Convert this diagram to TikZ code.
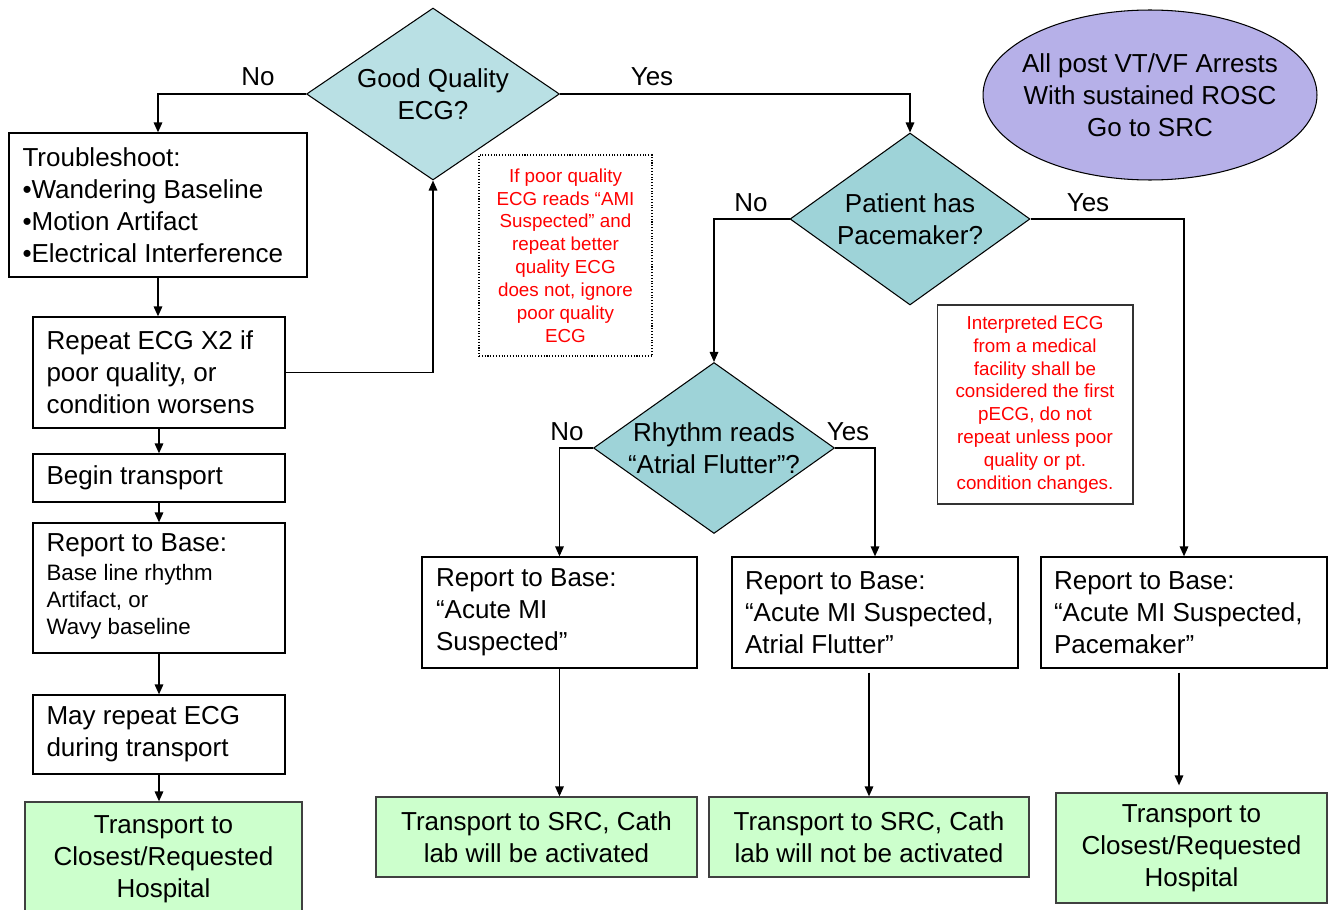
\documentclass[tikz,border=0pt]{standalone}
\usepackage{fontspec}
\setmainfont{Liberation Sans}
\usetikzlibrary{shapes.geometric,arrows.meta}
\definecolor{diaA}{HTML}{B9E0E4}
\definecolor{diaB}{HTML}{9ED3D8}
\definecolor{lav}{HTML}{B6B0E8}
\definecolor{grn}{HTML}{CCFFCC}
\definecolor{notered}{HTML}{FF0000}
\tikzset{
  main/.style={font=\fontsize{14.8}{18.14}\selectfont},
  box/.style={main, draw=black, line width=0.7pt, fill=white, inner xsep=0.27cm, inner ysep=0pt, align=flush left},
  gbox/.style={main, draw=black!75, line width=0.7pt, fill=grn, align=center, inner sep=0pt},
  dia/.style={diamond, draw=black, line width=0.6pt, inner sep=0pt},
  notetxt/.style={font=\fontsize{10.7}{13}\selectfont, text=notered, align=center, inner sep=0pt},
  arr/.style={line width=0.9pt, -{Triangle[length=0.2cm,width=0.17cm]}},
  lbl/.style={main, inner sep=0pt},
}
\begin{document}
\begin{tikzpicture}[x=0.02cm,y=-0.02cm]
\useasboundingbox (0,0) rectangle (1328,909);
\clip (0,0) rectangle (1328,909);

% decisions
\node[dia, fill=diaA, minimum width=5.06cm, minimum height=3.44cm,
  label={[main,align=center]center:Good Quality\\ECG?}] (d1) at (433,94) {};
\node[dia, fill=diaB, minimum width=4.80cm, minimum height=3.44cm,
  label={[main,align=center]center:Patient has\\Pacemaker?}] (d2) at (910,219) {};
\node[dia, fill=diaB, minimum width=4.82cm, minimum height=3.42cm,
  label={[main,align=center]center:Rhythm reads\\“Atrial Flutter”?}] (d3) at (714,448) {};

% ellipse
\node[ellipse, draw=black, line width=0.6pt, fill=lav, inner sep=0pt,
  minimum width=6.68cm, minimum height=3.40cm,
  label={[main,align=center]center:All post VT/VF Arrests\\With sustained ROSC\\Go to SRC}] (ell) at (1150,95) {};

% left column
\node[box, text width=5.42cm, minimum height=2.88cm] (ts) at (158,205)
  {Troubleshoot:\\•Wandering Baseline\\•Motion Artifact\\•Electrical Interference};
\node[box, text width=4.50cm, minimum height=2.22cm] (rep) at (159,372.5)
  {Repeat ECG X2 if\\poor quality, or\\condition worsens};
\node[box, text width=4.50cm, minimum height=0.96cm] (beg) at (159,478)
  {Begin transport};
\node[box, text width=4.50cm, minimum height=2.60cm] (rpl) at (159,588)
  {Report to Base:\\[-1.5pt]{\fontsize{12.7}{15.3}\selectfont\begin{tabular}[t]{@{}l@{}}Base line rhythm\\Artifact, or\\Wavy baseline\end{tabular}}};
\node[box, text width=4.50cm, minimum height=1.58cm] (may) at (159,734.5)
  {May repeat ECG\\during transport};
\node[gbox, minimum width=5.54cm, minimum height=2.30cm] (grl) at (163.5,859.5)
  {Transport to\\Closest/Requested\\Hospital};

% notes
\node[draw=black, densely dotted, line width=0.6pt, minimum width=3.46cm, minimum height=4.02cm,
  notetxt] (n1) at (565.5,255.5)
  {If poor quality\\ECG reads “AMI\\Suspected” and\\repeat better\\quality ECG\\does not, ignore\\poor quality\\ECG};
\node[draw=black!80, line width=0.6pt, minimum width=3.92cm, minimum height=3.98cm,
  notetxt] (n2) at (1035,404.5)
  {Interpreted ECG\\from a medical\\facility shall be\\considered the first\\pECG, do not\\repeat unless poor\\quality or pt.\\condition changes.};

% right reports
\node[box, inner xsep=0.28cm, text width=4.94cm, minimum height=2.22cm] (rpa) at (559.5,612.5)
  {Report to Base:\\“Acute MI\\Suspected”};
\node[box, inner xsep=0.26cm, text width=5.20cm, minimum height=2.22cm] (rpb) at (875,612.5)
  {Report to Base:\\“Acute MI Suspected,\\Atrial Flutter”};
\node[box, inner xsep=0.26cm, text width=5.20cm, minimum height=2.22cm] (rpc) at (1184,612.5)
  {Report to Base:\\“Acute MI Suspected,\\Pacemaker”};

% right finals
\node[gbox, minimum width=6.42cm, minimum height=1.60cm] (gra) at (536.5,837)
  {Transport to SRC, Cath\\lab will be activated};
\node[gbox, minimum width=6.40cm, minimum height=1.60cm] (grb) at (869,837)
  {Transport to SRC, Cath\\lab will not be activated};
\node[gbox, minimum width=5.42cm, minimum height=2.20cm] (grc) at (1191.5,848)
  {Transport to\\Closest/Requested\\Hospital};

% labels
\node[lbl] (no1) at (258,77) {No};
\node[lbl] (yes1) at (652,77) {Yes};
\node[lbl] (no2) at (751,203) {No};
\node[lbl] (yes2) at (1088,203) {Yes};
\node[lbl] (no3) at (567,432) {No};
\node[lbl] (yes3) at (848,432) {Yes};

% connectors
\draw[arr] (d1.west) -| (ts.north);
\draw[arr] (d1.east) -| (d2.north);
\draw[arr] (ts.south) -- (ts.south |- rep.north);
\draw[arr] (rep.east) -| (d1.south);
\draw[arr] (rep.south) -- (rep.south |- beg.north);
\draw[arr] (beg.south) -- (beg.south |- rpl.north);
\draw[arr] (rpl.south) -- (rpl.south |- may.north);
\draw[arr] (may.south) -- (may.south |- grl.north);
\draw[arr] (d2.west) -| (d3.north);
\draw[arr] (d2.east) -| (rpc.north);
\draw[arr] (d3.west) -| (rpa.north);
\draw[arr] (d3.east) -| (rpb.north);
\draw[arr] (rpa.south) -- (rpa.south |- gra.north);
\draw[arr] ([yshift=-0.08cm]grb.north |- rpb.south) -- (grb.north);
\coordinate (cs) at ([xshift=-0.1cm,yshift=-0.08cm]rpc.south);
\coordinate (ce) at ([yshift=0.14cm]cs |- grc.north);
\draw[arr] (cs) -- (ce);
\end{tikzpicture}
\end{document}
